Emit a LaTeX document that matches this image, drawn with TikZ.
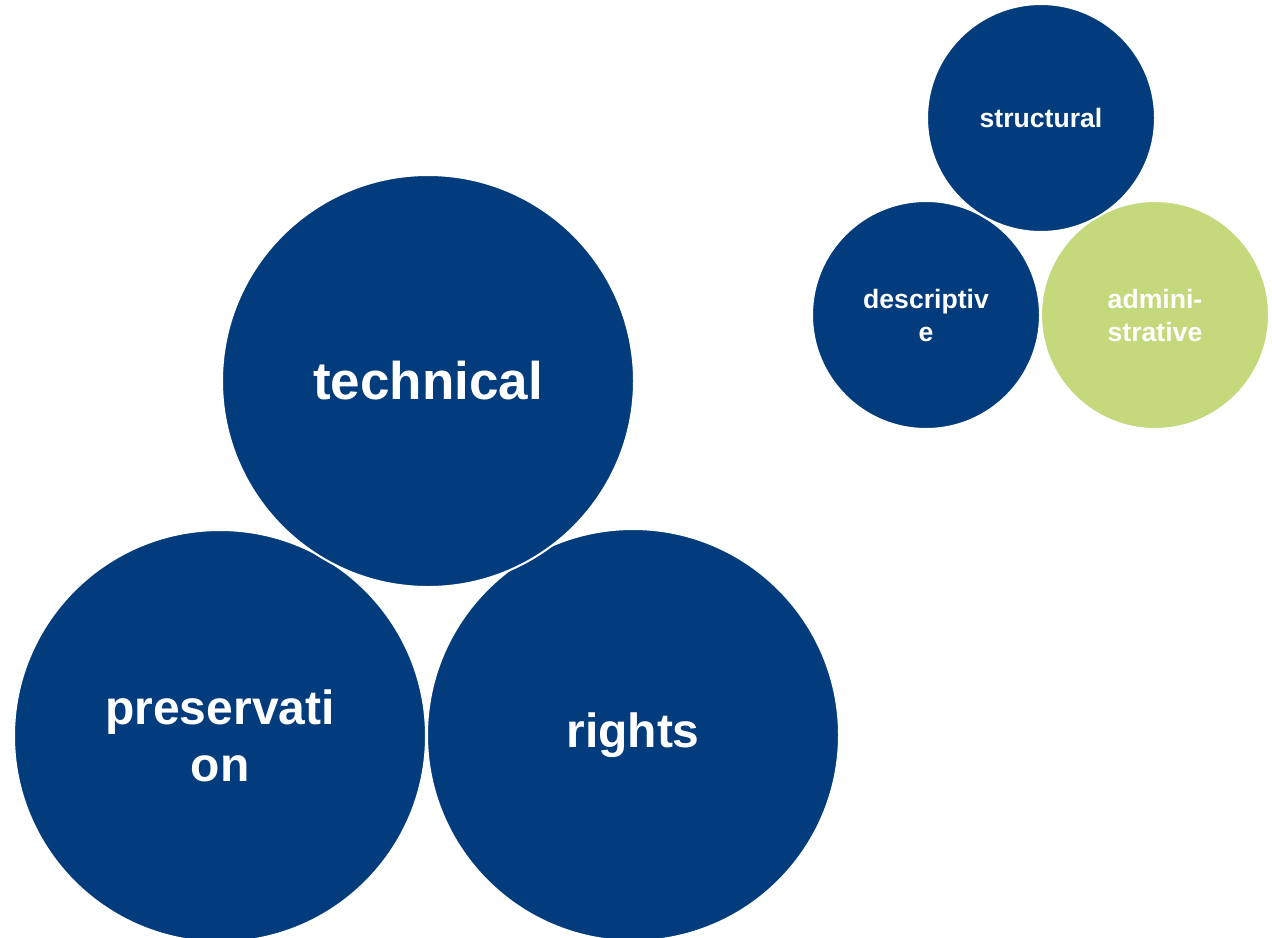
\documentclass[tikz,border=0pt]{standalone}
\usepackage{fontspec}
\setmainfont{Liberation Sans}
\definecolor{metablue}{HTML}{033C7C}
\definecolor{metagreen}{HTML}{C4D87C}
\tikzset{
    bubble/.style={circle, fill=metablue, draw=white, line width=1pt,
        text=white, font=\bfseries, align=center, inner sep=0pt},
    bigbubble/.style={bubble, minimum size=206pt, font=\fontsize{24}{28.5}\selectfont\bfseries},
    smallbubble/.style={bubble, minimum size=114pt, font=\fontsize{13.3}{16.5}\selectfont\bfseries}
}

\begin{document}
\begin{tikzpicture}[x=0.5pt, y=-0.5pt]
            \useasboundingbox (0,0) rectangle (1272,937);
            % big group
            \node[bigbubble] (preservation) at (220,736) {preservati\\on};
            \node[bigbubble] (rights) at (633,735) {rights};
            \node[bigbubble, font=\fontsize{26.5}{28}\selectfont\bfseries] (technical) at (428,381) {technical};
            % small group
            \node[smallbubble] (descriptive) at (926,315) {descriptiv\\e};
            \node[smallbubble, fill=metagreen] (administrative) at (1155,315) {admini-\\strative};
            \node[smallbubble] (structural) at (1041,118) {structural};
        \end{tikzpicture}
\end{document}
